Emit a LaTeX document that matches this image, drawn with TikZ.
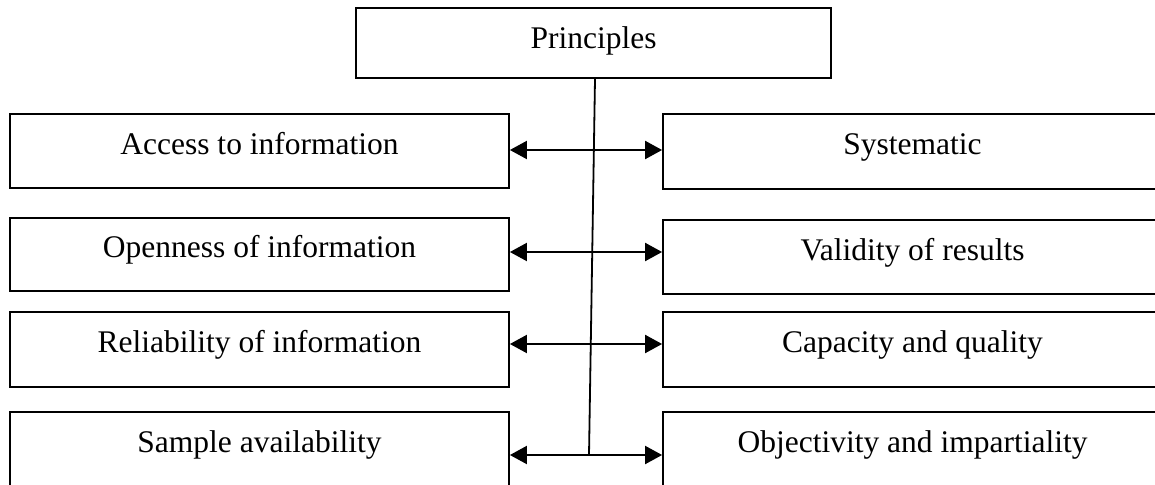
\documentclass[tikz,border=0pt]{standalone}
\usepackage{fontspec}
\setmainfont{Liberation Serif}
\usetikzlibrary{arrows.meta}
\begin{document}
\begin{tikzpicture}[x=1pt,y=-1pt,
  box/.style={draw,line width=1.8pt,rectangle,inner sep=0pt,minimum width=499pt},
  txt/.style={anchor=base,inner sep=0pt,font=\fontsize{31.5}{36}\selectfont},
  conn/.style={line width=1.8pt},
  biarrow/.style={line width=2pt,{Triangle[length=17pt,width=18pt]}-{Triangle[length=17pt,width=18pt]}}]
\useasboundingbox (0,0) rectangle (1155,484);
\clip (0,0) rectangle (1155,484);
% top
\node[box,minimum width=475pt,minimum height=70pt] (pr) at (593.5,43) {};
\node[txt] (prt) at (593.5,49) {Principles};
% left column
\node[box,minimum height=74pt] (l1) at (259.5,151) {};
\node[box,minimum height=73pt] (l2) at (259.5,254.5) {};
\node[box,minimum height=75pt] (l3) at (259.5,349.5) {};
\node[box,minimum height=76pt] (l4) at (259.5,450) {};
\node[txt] (l1t) at (259.5,154) {Access to information};
\node[txt] (l2t) at (259.5,257) {Openness of information};
\node[txt] (l3t) at (259.5,352) {Reliability of information};
\node[txt] (l4t) at (259.5,452) {Sample availability};
% right column
\node[box,minimum height=75pt] (r1) at (912.5,151.5) {};
\node[box,minimum height=74pt] (r2) at (912.5,257) {};
\node[box,minimum height=75pt] (r3) at (912.5,349.5) {};
\node[box,minimum height=76pt] (r4) at (912.5,450) {};
\node[txt] (r1t) at (912.5,154) {Systematic};
\node[txt] (r2t) at (912.5,260) {Validity of results};
\node[txt] (r3t) at (912.5,352) {Capacity and quality};
\node[txt] (r4t) at (912.5,452) {Objectivity and impartiality};
% connectors
\coordinate (vb) at (589,455);
\draw[conn] ([xshift=1.5pt]pr.south) -- (vb);
\draw[biarrow] (l1.east |- 0,150) -- (r1.west |- 0,150);
\draw[biarrow] (l2.east |- 0,252) -- (r2.west |- 0,252);
\draw[biarrow] (l3.east |- 0,344) -- (r3.west |- 0,344);
\draw[biarrow] (l4.east |- 0,455) -- (r4.west |- 0,455);
\end{tikzpicture}
\end{document}
